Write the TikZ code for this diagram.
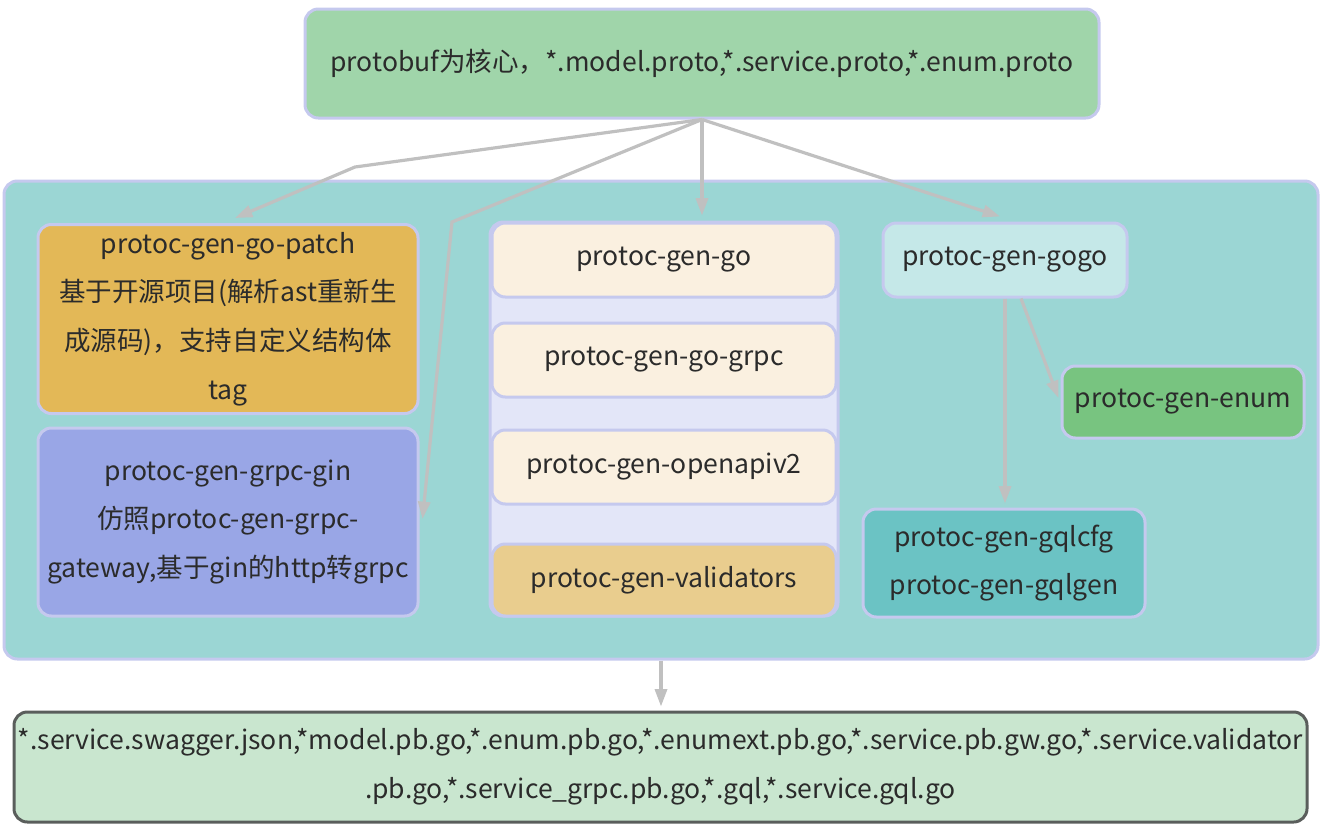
\documentclass[tikz,border=0pt]{standalone}
\usepackage{fontspec}
\setmainfont{Noto Sans CJK SC}
\usetikzlibrary{arrows.meta}
\definecolor{topgreen}{HTML}{A0D5AA}
\definecolor{teal}{HTML}{9BD6D4}
\definecolor{gold}{HTML}{E3B857}
\definecolor{violet}{HTML}{99A6E6}
\definecolor{lavbg}{HTML}{E3E6F8}
\definecolor{cream}{HTML}{FAF0E0}
\definecolor{valgold}{HTML}{E9CD8E}
\definecolor{lightcyan}{HTML}{C5E8E8}
\definecolor{enumgreen}{HTML}{78C480}
\definecolor{gqlteal}{HTML}{6BC3C4}
\definecolor{botgreen}{HTML}{C9E6CF}
\definecolor{botborder}{HTML}{5A5E5C}
\definecolor{lavline}{HTML}{C5C9EE}
\definecolor{arrowgray}{HTML}{C0C0C0}
\definecolor{txt}{HTML}{2B2B2B}
\begin{document}
\begin{tikzpicture}[x=0.75pt,y=-0.75pt,
  box/.style={draw=lavline, line width=2.25pt, rounded corners=10pt, inner sep=0pt,
    align=center, text=txt, font=\fontsize{19.9}{36.5}\selectfont},
  conn/.style={draw=arrowgray, line width=2.4pt,
    -{Triangle[length=13pt,width=9pt]}}]
\useasboundingbox (0,0) rectangle (1321,826);
% nodes
\node[box, fill=topgreen, minimum width=595.5pt, minimum height=81.75pt] (top) at (702,63.5)
  {protobuf为核心，*.model.proto,*.service.proto,*.enum.proto};
\node[box, fill=teal, minimum width=985.5pt, minimum height=358.5pt] (cont) at (661,420) {};
\node[box, fill=gold, minimum width=285pt, minimum height=141.75pt] (patch) at (228,319)
  {protoc-gen-go-patch\\基于开源项目(解析ast重新生\\成源码)，支持自定义结构体\\tag};
\node[box, fill=violet, minimum width=285pt, minimum height=141pt] (gin) at (228,522)
  {protoc-gen-grpc-gin\\仿照protoc-gen-grpc-\\gateway,基于gin的http转grpc};
\node[box, fill=lavbg, minimum width=261pt, minimum height=295.5pt] (mid) at (664,419) {};
\node[box, fill=cream, minimum width=258pt, minimum height=55.5pt] (go) at (664,260) {protoc-gen-go};
\node[box, fill=cream, minimum width=258pt, minimum height=55.5pt] (grpc) at (664,360) {protoc-gen-go-grpc};
\node[box, fill=cream, minimum width=258pt, minimum height=55.5pt] (openapi) at (664,467) {protoc-gen-openapiv2};
\node[box, fill=valgold, minimum width=258pt, minimum height=54pt] (valid) at (664,580) {protoc-gen-validators};
\node[box, fill=lightcyan, minimum width=183pt, minimum height=55.5pt] (gogo) at (1005,260) {protoc-gen-gogo};
\node[box, fill=enumgreen, minimum width=181.5pt, minimum height=54pt] (enum) at (1183,402) {protoc-gen-enum};
\node[box, fill=gqlteal, minimum width=211.5pt, minimum height=81pt] (gql) at (1004,563)
  {protoc-gen-gqlcfg\\protoc-gen-gqlgen};
\node[box, draw=botborder, fill=botgreen, minimum width=969.75pt, minimum height=82.5pt] (bot) at (660.5,767)
  {*.service.swagger.json,*model.pb.go,*.enum.pb.go,*.enumext.pb.go,*.service.pb.gw.go,*.service.validator\\.pb.go,*.service\_grpc.pb.go,*.gql,*.service.gql.go};
% bends
\coordinate (b1) at (355,167);
\coordinate (b2) at (452,222);
% connectors
\draw[conn] (top.south) -- (b1) -- ([shift={(7,-5)}]patch.north);
\draw[conn] (top.south) -- (b2) -- ([shift={(3,-3)}]gin.east);
\draw[conn] (top.south) -- ([yshift=4.5pt]top.south |- go.north);
\draw[conn] (top.south) -- ([shift={(-5,-5)}]gogo.north);
\draw[conn] ([xshift=12pt]gogo.south) -- ([shift={(-2,-4)}]enum.west);
\draw[conn] (gogo.south) -- ([yshift=3pt]gogo.south |- gql.north);
\draw[conn] (cont.south) -- ([yshift=3pt]cont.south |- bot.north);
\end{tikzpicture}
\end{document}
